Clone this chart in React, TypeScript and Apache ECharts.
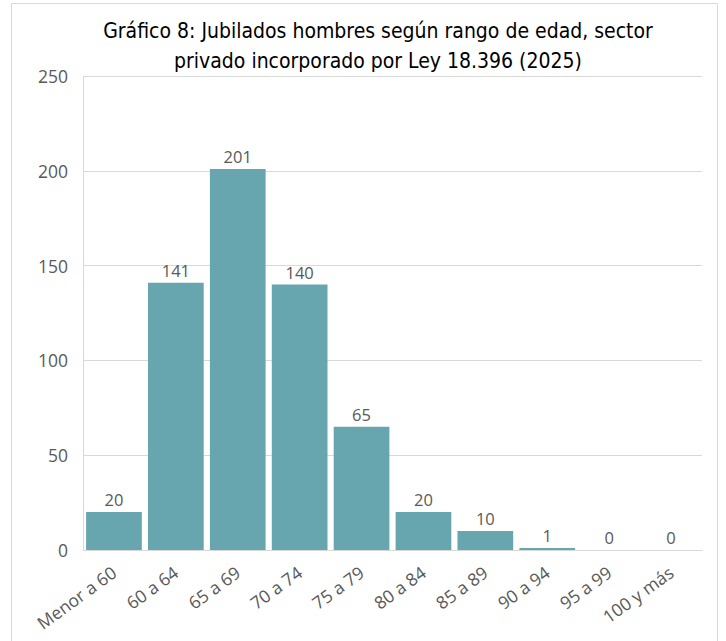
import React, { useEffect, useRef } from "react";
import * as echarts from "echarts";

const categories = ["Menor a 60", "60 a 64", "65 a 69", "70 a 74", "75 a 79", "80 a 84", "85 a 89", "90 a 94", "95 a 99", "100 y más"];
const values = [20, 141, 201, 140, 65, 20, 10, 1, 0, 0];
const titleLines = ["Gráfico 8: Jubilados hombres según rango de edad, sector", "privado incorporado por Ley 18.396 (2025)"];

const FONT = "'Liberation Sans Narrow', 'DejaVu Sans Condensed', 'Noto Sans', sans-serif";
const LABEL_FONT = "'Open Sans', 'Noto Sans', sans-serif";

export default function App() {
  const ref = useRef<HTMLDivElement>(null);
  useEffect(() => {
    if (!ref.current) return;
    const chart = echarts.init(ref.current, null, { renderer: "svg" });
    chart.setOption({
      animation: false,
      backgroundColor: "#ffffff",
      title: {
        text: titleLines.join("\n"),
        left: 373,
        textAlign: "center",
        top: 11,
        textStyle: { fontFamily: FONT, fontSize: 21, fontWeight: "normal", color: "#000000", lineHeight: 30 },
      },
      graphic: [
        {
          type: "rect",
          shape: { x: 11.5, y: 3.5, width: 706, height: 660 },
          style: { fill: "none", stroke: "#d9d9d9", lineWidth: 1 },
          silent: true,
        },
      ],
      grid: { left: 83, right: 24, top: 76, bottom: 91 },
      xAxis: {
        type: "category",
        data: categories,
        axisTick: { show: false },
        axisLine: { lineStyle: { color: "#d9d9d9" } },
        axisLabel: { rotate: 36, color: "#595959", fontSize: 17.5, fontFamily: LABEL_FONT, interval: 0, margin: 20 },
      },
      yAxis: {
        type: "value",
        min: 0,
        max: 250,
        interval: 50,
        axisLine: { show: true, lineStyle: { color: "#d9d9d9" } },
        axisTick: { show: false },
        splitLine: { lineStyle: { color: "#d9d9d9" } },
        axisLabel: { color: "#595959", fontSize: 17.5, fontFamily: LABEL_FONT, margin: 15 },
      },
      series: [
        {
          type: "bar",
          data: values,
          barCategoryGap: "10%",
          itemStyle: { color: "#67a6af" },
          label: { show: true, position: "top", distance: 4, color: "#595959", fontSize: 16.5, fontFamily: LABEL_FONT },
        },
      ],
    });
    return () => chart.dispose();
  }, []);
  return <div ref={ref} style={{ position: "fixed", left: 0, top: 0, width: 726, height: 641 }} />;
}
